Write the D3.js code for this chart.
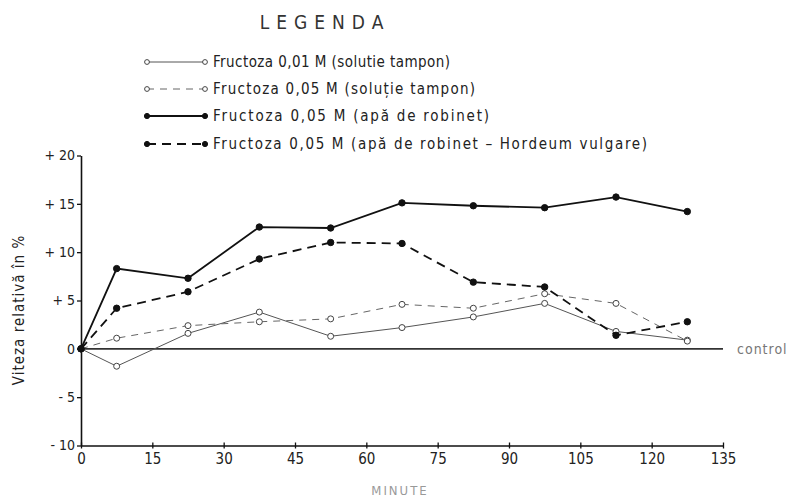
<!DOCTYPE html>
<html>
<head>
<meta charset="utf-8">
<script src="https://cdn.jsdelivr.net/npm/d3@7"></script>
<style>
  html, body { margin: 0; padding: 0; background: #fff; }
  svg text { font-family: "DejaVu Sans Condensed", "Liberation Sans Narrow", sans-serif; fill: #222; }
  .axis .domain { stroke: #111; stroke-width: 1.6; }
  .axis line { stroke: #111; stroke-width: 1.3; }
</style>
</head>
<body>
<div id="main"></div>
<script>
var minutes = [0, 7.5, 22.5, 37.5, 52.5, 67.5, 82.5, 97.5, 112.5, 127.5];
var tampon001 = [0, -1.8, 1.6, 3.8, 1.3, 2.2, 3.3, 4.7, 1.8, 0.9];
var tampon005 = [0, 1.1, 2.4, 2.8, 3.1, 4.6, 4.2, 5.7, 4.7, 0.8];
var robinet005 = [0, 8.3, 7.3, 12.6, 12.5, 15.1, 14.8, 14.6, 15.7, 14.2];
var hordeum005 = [0, 4.2, 5.9, 9.3, 11.0, 10.9, 6.9, 6.4, 1.4, 2.8];
var xTicks = [0, 15, 30, 45, 60, 75, 90, 105, 120, 135];
var yTicks = [20, 15, 10, 5, 0, -5, -10];
var yTickLabels = ["+ 20", "+ 15", "+ 10", "+ 5", "0", "- 5", "- 10"];
var seriesNames = [
  "Fructoza 0,01 M (solutie tampon)",
  "Fructoza 0,05 M (soluție tampon)",
  "Fructoza 0,05 M (apă de robinet)",
  "Fructoza 0,05 M (apă de robinet – Hordeum vulgare)"
];

var width = 791, height = 502;
var series = [
  { name: seriesNames[0], values: tampon001, dash: null, width: 1, color: "#555", filled: false },
  { name: seriesNames[1], values: tampon005, dash: "7,6", width: 1, color: "#666", filled: false },
  { name: seriesNames[2], values: robinet005, dash: null, width: 1.8, color: "#111", filled: true },
  { name: seriesNames[3], values: hordeum005, dash: "9,6", width: 1.8, color: "#111", filled: true }
];
// legend layout
var legendY = [62, 89, 116, 144];
var legendTextLength = [237, 262, 276, 434];

var svg = d3.select("#main").append("svg")
  .attr("width", width).attr("height", height);

var x = d3.scaleLinear().domain([0, 135]).range([81, 723]);
var y = d3.scaleLinear().domain([-10, 20]).range([445.5, 155.5]);

// y axis
var yAxis = svg.append("g").attr("class", "axis")
  .attr("transform", "translate(" + x(0) + ",0)")
  .call(d3.axisLeft(y).tickValues(yTicks).tickSize(4).tickSizeOuter(0)
    .tickFormat(function(d) { return yTickLabels[yTicks.indexOf(d)]; }));
yAxis.selectAll("text").style("font-size", "14px").attr("x", -6);

// x axis at -10
var xAxis = svg.append("g").attr("class", "axis")
  .attr("transform", "translate(0," + y(-10) + ")")
  .call(d3.axisBottom(x).tickValues(xTicks).tickSize(0).tickSizeOuter(0).tickPadding(8));
xAxis.selectAll(".tick line").attr("y1", -3).attr("y2", 3);
xAxis.selectAll("text").style("font-size", "15px");

// control line
svg.append("line")
  .attr("x1", x(0)).attr("x2", x(135))
  .attr("y1", y(0)).attr("y2", y(0))
  .attr("stroke", "#333").attr("stroke-width", 1.6);
svg.append("text")
  .attr("x", x(135) + 14).attr("y", y(0) + 5)
  .style("font-size", "14px").style("fill", "#777").style("letter-spacing", "1px")
  .text("control");

var line = d3.line()
  .x(function(d, i) { return x(minutes[i]); })
  .y(function(d) { return y(d); });

series.forEach(function(s) {
  svg.append("path")
    .datum(s.values)
    .attr("d", line)
    .attr("fill", "none")
    .attr("stroke", s.color)
    .attr("stroke-width", s.width)
    .attr("stroke-dasharray", s.dash);
  svg.selectAll(null)
    .data(s.values)
    .enter().append("circle")
    .attr("cx", function(d, i) { return x(minutes[i]); })
    .attr("cy", function(d) { return y(d); })
    .attr("r", s.filled ? 3.2 : 3)
    .attr("fill", s.filled ? "#111" : "#fff")
    .attr("stroke", s.filled ? "#111" : "#444")
    .attr("stroke-width", 1);
});

// axis titles
svg.append("text")
  .attr("transform", "translate(24,310) rotate(-90)")
  .attr("text-anchor", "middle")
  .style("font-size", "15px").style("letter-spacing", "1px")
  .text("Viteza relativă în %");

svg.append("text")
  .attr("x", 400).attr("y", 495)
  .attr("text-anchor", "middle")
  .style("font-size", "13px").style("fill", "#999").style("letter-spacing", "2px")
  .text("MINUTE");

// legend
svg.append("text")
  .attr("x", 325).attr("y", 29)
  .attr("text-anchor", "middle")
  .style("font-size", "19px").style("letter-spacing", "7px").style("fill", "#333")
  .text("LEGENDA");

series.forEach(function(s, i) {
  var g = svg.append("g").attr("transform", "translate(0," + legendY[i] + ")");
  g.append("line")
    .attr("x1", 147).attr("x2", 205)
    .attr("stroke", s.color).attr("stroke-width", s.width)
    .attr("stroke-dasharray", s.dash);
  [147, 205].forEach(function(cx) {
    g.append("circle").attr("cx", cx).attr("cy", 0)
      .attr("r", s.filled ? 2.6 : 2.4)
      .attr("fill", s.filled ? "#111" : "#fff")
      .attr("stroke", s.filled ? "#111" : "#444");
  });
  g.append("text")
    .attr("x", 213).attr("y", 5)
    .attr("textLength", legendTextLength[i])
    .attr("lengthAdjust", "spacing")
    .style("font-size", "15px")
    .text(s.name);
});
</script>
</body>
</html>
